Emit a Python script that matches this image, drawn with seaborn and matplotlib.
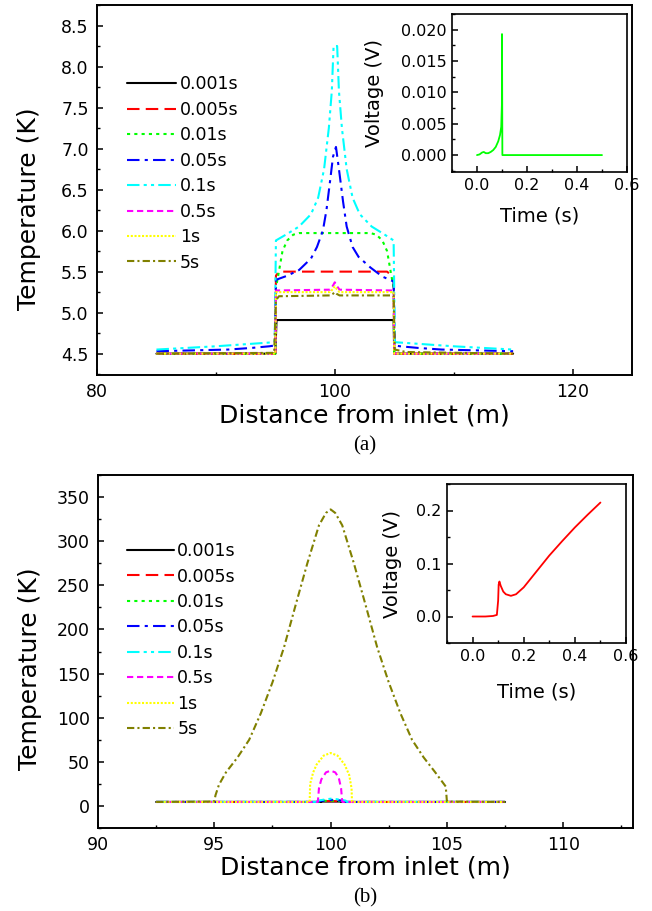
import seaborn as sns
import matplotlib.pyplot as plt
from matplotlib.ticker import MultipleLocator

# ===============================
# Dados
# ===============================
labels = ['0.001s', '0.005s', '0.01s', '0.05s', '0.1s', '0.5s', '1s', '5s']

# (a) perfis de temperatura
a_x_0001 = [85, 95, 95.1, 104.95, 105, 115]
a_T_0001 = [4.5, 4.5, 4.91, 4.91, 4.5, 4.5]
a_x_0005 = [85, 95, 95.05, 95.3, 104.4, 104.95, 105, 115]
a_T_0005 = [4.5, 4.5, 5.45, 5.5, 5.5, 5.43, 4.5, 4.5]
a_x_001 = [85, 95, 95.05, 95.3, 95.6, 96.0, 96.5, 97.0, 103.0, 103.5, 104.0, 104.4, 104.7, 104.95, 105, 115]
a_T_001 = [4.5, 4.5, 5.3, 5.5, 5.75, 5.88, 5.95, 5.97, 5.97, 5.95, 5.88, 5.75, 5.5, 5.3, 4.5, 4.5]
a_x_005 = [85, 88, 91, 93, 94.5, 94.95, 95.05, 96, 97, 98, 98.5, 99, 99.3, 99.6, 99.85, 100.1,
           100.35, 100.7, 101, 101.5, 102, 103, 104, 104.95, 105.05, 105.5, 107, 109, 112, 115]
a_T_005 = [4.53, 4.54, 4.55, 4.57, 4.59, 4.6, 5.4, 5.45, 5.52, 5.66, 5.8, 6.0, 6.25, 6.6, 6.9, 7.02,
           6.75, 6.35, 6.05, 5.8, 5.68, 5.55, 5.44, 5.38, 4.6, 4.59, 4.57, 4.55, 4.54, 4.53]
a_x_01 = [85, 90, 94.95, 95.05, 96, 97, 98, 98.6, 99.1, 99.5, 99.75, 99.9, 100.2, 100.35, 100.6,
          101, 101.5, 102.1, 103.1, 104.1, 104.95, 105.05, 110, 115]
a_T_01 = [4.55, 4.59, 4.64, 5.88, 5.96, 6.05, 6.2, 6.4, 6.75, 7.25, 7.7, 8.25, 8.25, 7.7, 7.25,
          6.75, 6.4, 6.2, 6.05, 5.96, 5.88, 4.64, 4.59, 4.55]
a_x_05 = [85, 95, 95.05, 99.6, 99.85, 100.0, 100.15, 100.4, 104.95, 105, 115]
a_T_05 = [4.5, 4.5, 5.27, 5.28, 5.33, 5.37, 5.33, 5.28, 5.27, 4.5, 4.5]
a_x_1 = [85, 95, 95.05, 99.6, 99.85, 100.0, 100.15, 100.4, 104.95, 105, 115]
a_T_1 = [4.5, 4.5, 5.25, 5.25, 5.29, 5.32, 5.29, 5.25, 5.25, 4.5, 4.5]
a_x_5 = [85, 94.9, 95.05, 95.3, 99.6, 99.85, 100.0, 100.15, 100.4, 104.95, 105.05, 106, 115]
a_T_5 = [4.5, 4.51, 5.15, 5.2, 5.21, 5.23, 5.25, 5.23, 5.21, 5.21, 4.55, 4.52, 4.5]

# (b) perfis de temperatura
b_x_0001 = [92.5, 99.6, 99.65, 100.4, 100.45, 107.5]
b_T_0001 = [4.5, 4.5, 5.0, 5.0, 4.5, 4.5]
b_x_0005 = [92.5, 99.55, 99.6, 100.0, 100.45, 100.5, 107.5]
b_T_0005 = [4.5, 4.5, 5.3, 5.5, 5.3, 4.5, 4.5]
b_x_001 = [92.5, 99.5, 99.55, 100.0, 100.5, 100.55, 107.5]
b_T_001 = [4.5, 4.5, 5.6, 6.0, 5.6, 4.5, 4.5]
b_x_005 = [92.5, 99.45, 99.5, 100.0, 100.2, 100.6, 100.65, 107.5]
b_T_005 = [4.5, 4.5, 5.5, 6.8, 7.0, 5.5, 4.5, 4.5]
b_x_01 = [92.5, 99.4, 99.45, 99.8, 100.05, 100.3, 100.65, 100.7, 107.5]
b_T_01 = [4.6, 4.6, 6.0, 7.5, 8.3, 7.5, 6.0, 4.6, 4.6]
b_x_05 = [92.5, 99.45, 99.5, 99.6, 99.8, 100.0, 100.2, 100.35, 100.45, 100.5, 107.5]
b_T_05 = [4.5, 4.5, 20, 30, 38, 40, 38, 32, 20, 4.5, 4.5]
b_x_1 = [92.5, 99.1, 99.12, 99.25, 99.4, 99.7, 100.0, 100.3, 100.6, 100.8, 100.9, 100.92, 107.5]
b_T_1 = [4.5, 4.5, 25, 38, 47, 57, 60, 57, 47, 35, 20, 4.5, 4.5]
b_x_5 = [92.5, 95.0, 95.05, 95.2, 95.5, 96.0, 96.5, 97.0, 97.5, 98.0, 98.5, 99.0, 99.5, 99.8, 100.0,
         100.2, 100.5, 101.0, 101.5, 102.0, 102.5, 103.0, 103.5, 104.0, 104.5, 104.95, 105.0, 107.5]
b_T_5 = [4.5, 5, 12, 24, 38, 55, 75, 105, 140, 180, 228, 275, 318, 332, 336,
         332, 318, 275, 228, 180, 140, 105, 75, 55, 38, 22, 5, 4.5]

# insets: tensao x tempo
a_t = [0, 0.01, 0.02, 0.027, 0.035, 0.045, 0.055, 0.065, 0.075, 0.085, 0.092, 0.097, 0.0995,
       0.1, 0.1015, 0.2, 0.3, 0.4, 0.5]
a_V = [0, 0.0001, 0.0004, 0.0005, 0.0003, 0.0003, 0.0005, 0.0008, 0.0013, 0.0022, 0.0032, 0.0045, 0.008,
       0.0193, 0.0, 0, 0, 0, 0]
b_t = [0, 0.05, 0.08, 0.095, 0.1, 0.102, 0.105, 0.11, 0.12, 0.13, 0.15, 0.17, 0.2, 0.25, 0.3, 0.35,
       0.4, 0.45, 0.5]
b_V = [0, 0, 0.001, 0.003, 0.03, 0.06, 0.066, 0.058, 0.047, 0.042, 0.039, 0.042, 0.055, 0.085, 0.115,
       0.142, 0.168, 0.192, 0.215]

a_curves = [(a_x_0001, a_T_0001), (a_x_0005, a_T_0005), (a_x_001, a_T_001), (a_x_005, a_T_005),
            (a_x_01, a_T_01), (a_x_05, a_T_05), (a_x_1, a_T_1), (a_x_5, a_T_5)]
b_curves = [(b_x_0001, b_T_0001), (b_x_0005, b_T_0005), (b_x_001, b_T_001), (b_x_005, b_T_005),
            (b_x_01, b_T_01), (b_x_05, b_T_05), (b_x_1, b_T_1), (b_x_5, b_T_5)]

colors = ['#000000', '#ff0000', '#00ff00', '#0000ff', '#00ffff', '#ff00ff', '#ffff00', '#808000']
styles = ['-', (0, (6, 3)), (0, (1.5, 2)), (0, (6, 2.5, 1.5, 2.5)), (0, (6, 2, 1.5, 2, 1.5, 2)),
          (0, (3, 1.8)), (0, (1, 0.8)), (0, (3.5, 1.5, 1, 1.5))]

# ===============================
# Estilo
# ===============================
sns.set_style("ticks")
plt.rcParams['font.family'] = ['DejaVu Sans']
plt.rcParams['text.color'] = 'black'
plt.rcParams['axes.labelcolor'] = 'black'
plt.rcParams['xtick.color'] = 'black'
plt.rcParams['ytick.color'] = 'black'
plt.rcParams['axes.linewidth'] = 1.4
plt.rcParams['xtick.direction'] = 'in'
plt.rcParams['ytick.direction'] = 'in'


def style_axes(ax, lw=1.4, major=4.5, minor=2.5, size=12.5):
    for s in ax.spines.values():
        s.set_linewidth(lw)
        s.set_color('black')
    ax.tick_params(which='major', length=major, width=1.1, labelsize=size, pad=6,
                   colors='black', labelcolor='black')
    ax.tick_params(which='minor', length=minor, width=1.0, colors='black')
    ax.tick_params(top=False, right=False, which='both')


fig = plt.figure(figsize=(6.52, 9.11), dpi=100)

# ===============================
# (a)
# ===============================
ax1 = fig.add_axes([97 / 652, 1 - 375 / 911, 535 / 652, 370 / 911])
for (x, y), lab, c, ls in zip(a_curves, labels, colors, styles):
    sns.lineplot(x=x, y=y, ax=ax1, color=c, linestyle=ls, lw=1.5, label=lab,
                 estimator=None, sort=False)
ax1.set_xlim(80, 125)
ax1.set_ylim(4.24, 8.75)
ax1.xaxis.set_major_locator(MultipleLocator(20))
ax1.xaxis.set_minor_locator(MultipleLocator(10))
ax1.yaxis.set_major_locator(MultipleLocator(0.5))
ax1.yaxis.set_minor_locator(MultipleLocator(0.25))
style_axes(ax1)
ax1.set_xlabel('Distance from inlet (m)', fontsize=18)
ax1.set_ylabel('Temperature (K)', fontsize=18)
ax1.xaxis.set_label_coords(0.5, -0.078)
ax1.yaxis.set_label_coords(-0.105, 0.45)
ax1.legend(loc='upper left', bbox_to_anchor=(0.056, 0.81), frameon=False, fontsize=12.5,
           handlelength=2.85, handletextpad=0.2, labelspacing=0.43, borderpad=0, borderaxespad=0)

ins1 = fig.add_axes([452 / 652, 1 - 172 / 911, 175 / 652, 158 / 911])
sns.lineplot(x=a_t, y=a_V, ax=ins1, color='#00ff00', lw=1.3, estimator=None, sort=False)
ins1.set_xlim(-0.1, 0.6)
ins1.set_ylim(-0.0027, 0.0225)
ins1.xaxis.set_major_locator(MultipleLocator(0.2))
ins1.xaxis.set_minor_locator(MultipleLocator(0.1))
ins1.yaxis.set_major_locator(MultipleLocator(0.005))
ins1.yaxis.set_minor_locator(MultipleLocator(0.0025))
ins1.yaxis.set_major_formatter(plt.FormatStrFormatter('%.3f'))
ins1.xaxis.set_major_formatter(plt.FormatStrFormatter('%.1f'))
style_axes(ins1, lw=1.2, major=4, minor=2.2, size=11.5)
ins1.tick_params(which='major', pad=4)
ins1.set_xlabel('Time (s)', fontsize=14)
ins1.set_ylabel('Voltage (V)', fontsize=14)
ins1.xaxis.set_label_coords(0.5, -0.22)
ins1.yaxis.set_label_coords(-0.39, 0.5)

fig.text(365 / 652, 1 - 446 / 911, '(a)', ha='center', va='center', fontsize=15,
         family='Liberation Serif')

# ===============================
# (b)
# ===============================
ax2 = fig.add_axes([98 / 652, 1 - 828 / 911, 535 / 652, 353 / 911])
for (x, y), lab, c, ls in zip(b_curves, labels, colors, styles):
    sns.lineplot(x=x, y=y, ax=ax2, color=c, linestyle=ls, lw=1.5, label=lab,
                 estimator=None, sort=False)
ax2.set_xlim(90, 113)
ax2.set_ylim(-25, 375)
ax2.xaxis.set_major_locator(MultipleLocator(5))
ax2.xaxis.set_minor_locator(MultipleLocator(2.5))
ax2.yaxis.set_major_locator(MultipleLocator(50))
ax2.yaxis.set_minor_locator(MultipleLocator(25))
style_axes(ax2)
ax2.set_xlabel('Distance from inlet (m)', fontsize=18)
ax2.set_ylabel('Temperature (K)', fontsize=18)
ax2.xaxis.set_label_coords(0.5, -0.079)
ax2.yaxis.set_label_coords(-0.105, 0.45)
ax2.legend(loc='upper left', bbox_to_anchor=(0.054, 0.81), frameon=False, fontsize=12.5,
           handlelength=2.7, handletextpad=0.2, labelspacing=0.43, borderpad=0, borderaxespad=0)

ins2 = fig.add_axes([447 / 652, 1 - 643 / 911, 179 / 652, 159 / 911])
sns.lineplot(x=b_t, y=b_V, ax=ins2, color='#ff0000', lw=1.3, estimator=None, sort=False)
ins2.set_xlim(-0.1, 0.6)
ins2.set_ylim(-0.05, 0.25)
ins2.xaxis.set_major_locator(MultipleLocator(0.2))
ins2.xaxis.set_minor_locator(MultipleLocator(0.1))
ins2.yaxis.set_major_locator(MultipleLocator(0.1))
ins2.yaxis.set_minor_locator(MultipleLocator(0.05))
ins2.yaxis.set_major_formatter(plt.FormatStrFormatter('%.1f'))
ins2.xaxis.set_major_formatter(plt.FormatStrFormatter('%.1f'))
style_axes(ins2, lw=1.2, major=4, minor=2.2, size=11.5)
ins2.tick_params(which='major', pad=4)
ins2.set_xlabel('Time (s)', fontsize=14)
ins2.set_ylabel('Voltage (V)', fontsize=14)
ins2.xaxis.set_label_coords(0.5, -0.25)
ins2.yaxis.set_label_coords(-0.25, 0.5)

fig.text(365 / 652, 1 - 898 / 911, '(b)', ha='center', va='center', fontsize=15,
         family='Liberation Serif')

fig.savefig('out.png', dpi=100)
